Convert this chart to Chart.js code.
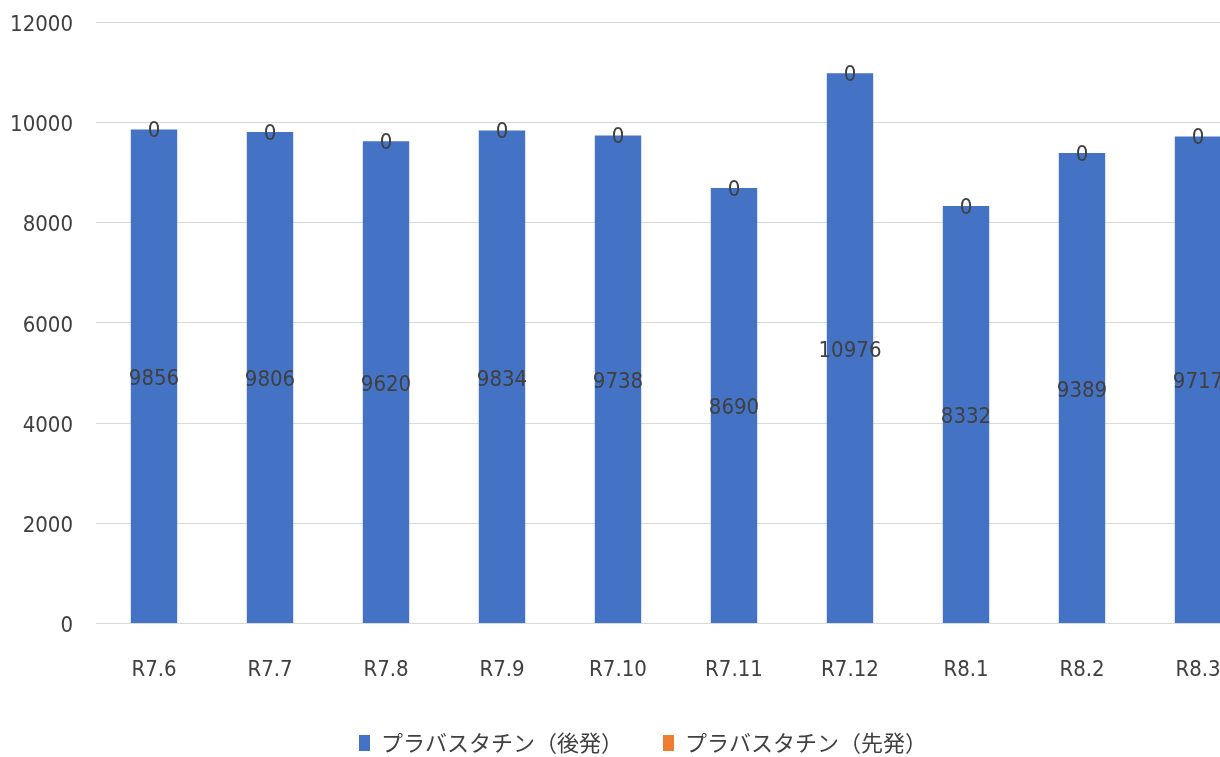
<!DOCTYPE html>
<html lang="ja">
<head>
<meta charset="utf-8">
<script src="https://cdn.jsdelivr.net/npm/chart.js@4.4.1/dist/chart.umd.min.js"></script>
<style>
  html, body { margin: 0; padding: 0; background: #fff; overflow: hidden; }
  #wrap { width: 1286px; height: 764px; }
</style>
</head>
<body>
<div id="wrap"><canvas id="barChart" width="1286" height="764"></canvas></div>
<script>
// 月ごとの数量
const meses = ["R7.6", "R7.7", "R7.8", "R7.9", "R7.10", "R7.11", "R7.12", "R8.1", "R8.2", "R8.3"];
const kouhatsu = [9856, 9806, 9620, 9834, 9738, 8690, 10976, 8332, 9389, 9717];
const senpatsu = [0, 0, 0, 0, 0, 0, 0, 0, 0, 0];
const yTicks = [0, 2000, 4000, 6000, 8000, 10000, 12000];

const corTexto = "#404040";
const fonteNum = "'DejaVu Sans', sans-serif";
const fonteNumCfg = { family: fonteNum, size: 22, weight: "condensed" };

// rótulos dos valores (sem o plugin datalabels)
const rotulos = {
  id: "rotulos",
  afterDatasetsDraw(chart) {
    const ctx = chart.ctx;
    ctx.save();
    ctx.font = "condensed 22px " + fonteNum;
    ctx.fillStyle = corTexto;
    ctx.textAlign = "center";
    ctx.textBaseline = "middle";
    chart.data.datasets.forEach((ds, i) => {
      const meta = chart.getDatasetMeta(i);
      meta.data.forEach((bar, j) => {
        const v = ds.data[j];
        if (i === 0) {
          ctx.fillText(String(v), bar.x, (bar.y + bar.base) / 2 + 3);
        } else {
          ctx.fillText(String(v), bar.x, bar.y + 2);
        }
      });
    });
    ctx.restore();
  }
};

const ctxBar = document.getElementById("barChart").getContext("2d");
new Chart(ctxBar, {
  type: "bar",
  data: {
    labels: meses,
    datasets: [
      {
        label: "プラバスタチン（後発）",
        data: kouhatsu,
        backgroundColor: "#4472C4",
        borderColor: "#4472C4",
        barPercentage: 0.4,
        categoryPercentage: 1.0
      },
      {
        label: "プラバスタチン（先発）",
        data: senpatsu,
        backgroundColor: "#ED7D31",
        borderColor: "#ED7D31",
        barPercentage: 0.4,
        categoryPercentage: 1.0
      }
    ]
  },
  options: {
    responsive: false,
    animation: false,
    layout: { padding: { left: 30, right: 30, top: 22, bottom: 0 } },
    scales: {
      x: {
        stacked: true,
        grid: { display: false },
        border: { color: "#d9d9d9" },
        ticks: { color: corTexto, font: fonteNumCfg, padding: 25, maxRotation: 0 },
        afterFit: (axis) => { axis.height -= 16; }
      },
      y: {
        stacked: true,
        min: 0,
        max: 12000,
        afterBuildTicks: (axis) => { axis.ticks = yTicks.map(v => ({ value: v })); },
        afterFit: (axis) => {
          axis.width = 66;
          axis.paddingTop = 0;
          // não cortar os rótulos que passam da caixa do eixo
          axis._computeLabelArea = () => undefined;
        },
        grid: { color: "#d9d9d9", drawTicks: false },
        border: { display: false },
        ticks: {
          color: corTexto,
          font: fonteNumCfg,
          padding: 23,
          labelOffset: 3,
          callback: (v) => String(v)
        }
      }
    },
    plugins: {
      legend: {
        position: "bottom",
        labels: {
          color: corTexto,
          font: { family: "'Noto Sans CJK JP', sans-serif", size: 22 },
          boxWidth: 11,
          boxHeight: 16,
          padding: 40
        }
      },
      tooltip: { enabled: false }
    }
  },
  plugins: [rotulos]
});
</script>
</body>
</html>
